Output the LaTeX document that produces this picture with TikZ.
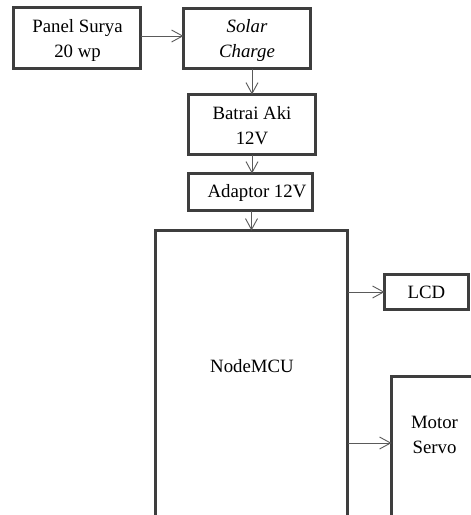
\documentclass[tikz,border=0pt]{standalone}
\usepackage{fontspec}
\setmainfont{Liberation Serif}
\usetikzlibrary{arrows.meta}
\definecolor{boxline}{HTML}{3E3E3E}
\definecolor{arrline}{HTML}{5A5A5A}
\begin{document}
\begin{tikzpicture}[x=1pt,y=-1pt,
  blk/.style={draw=boxline, line width=3pt, fill=white, rectangle, inner sep=0pt, outer sep=0pt},
  txt/.style={inner sep=0pt, anchor=base, font=\fontsize{18.8}{25}\selectfont},
  arr/.style={draw=arrline, line width=0.9pt, -{Straight Barb[length=11pt,width=12pt,line width=0.9pt]}}]
\useasboundingbox (0,0) rectangle (471,515);
\clip (0,0) rectangle (471,515);
\fill[white] (0,0) rectangle (471,515);

% boxes
\node[blk, minimum width=127pt, minimum height=61pt] (panel) at (77,38) {};
\node[blk, minimum width=127pt, minimum height=60pt] (solar) at (247,38.5) {};
\node[blk, minimum width=127pt, minimum height=60pt] (aki) at (252,124.5) {};
\node[blk, minimum width=124pt, minimum height=37pt] (adaptor) at (250.5,192) {};
\node[blk, minimum width=192pt, minimum height=400pt, anchor=north] (mcu) at (251.5,230.5) {};
\node[blk, minimum width=84pt, minimum height=35pt] (lcd) at (426.5,292) {};
\node[blk, minimum width=200pt, minimum height=300pt, anchor=north west] (motor) at (391.5,376.5) {};

% texts
\node[txt] (panelA) at (77.5,32) {Panel Surya};
\node[txt] (panelB) at (77.5,57) {20 wp};
\node[txt, font=\fontsize{18.8}{25}\selectfont\itshape] (solarA) at (247,32) {Solar};
\node[txt, font=\fontsize{18.8}{25}\selectfont\itshape] (solarB) at (247,57) {Charge};
\node[txt] (akiA) at (252,119) {Batrai Aki};
\node[txt] (akiB) at (252,144) {12V};
\node[txt] (adaptorA) at (257,197) {Adaptor 12V};
\node[txt] (mcuA) at (252,372) {NodeMCU};
\node[txt] (lcdA) at (426.5,298) {LCD};
\node[txt] (motorA) at (434.5,428) {Motor};
\node[txt] (motorB) at (434.5,453) {Servo};

\coordinate (panelline) at (0,36);
\coordinate (servoline) at (0,443);

% connectors
\draw[arr] (panelline -| panel.east) -- (panelline -| solar.west);
\draw[arr] (aki.north |- solar.south) -- (aki.north);
\draw[arr] (aki.south) -- (aki.south |- adaptor.north);
\draw[arr] (mcu.north |- adaptor.south) -- (mcu.north);
\draw[arr] (lcd.west -| mcu.east) -- (lcd.west);
\draw[arr] (servoline -| mcu.east) -- (servoline -| motor.west);
\end{tikzpicture}
\end{document}
